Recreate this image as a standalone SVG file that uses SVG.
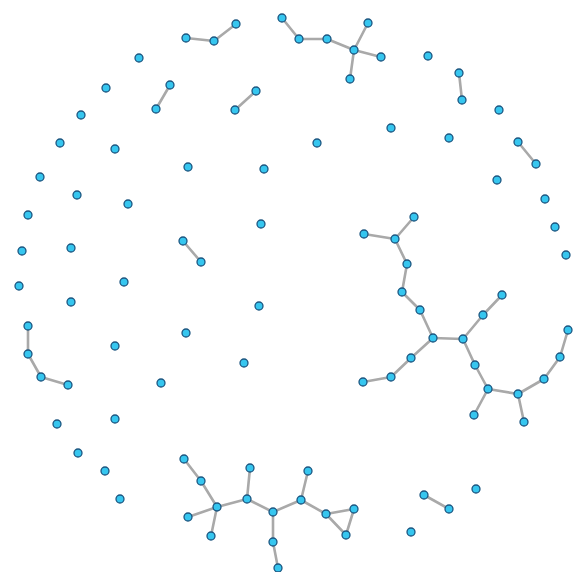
<svg xmlns="http://www.w3.org/2000/svg" width="574" height="572" viewBox="0 0 574 572">
<style>
.e{stroke:#a9a9a9;stroke-width:2.6;stroke-linecap:round;fill:none}
.n circle{fill:#36c6ef;stroke:#1d5680;stroke-width:1.3}
</style>
<rect width="574" height="572" fill="#ffffff"/>
<g id="edges">
<line class="e" x1="186" y1="38" x2="214" y2="41"/>
<line class="e" x1="214" y1="41" x2="236" y2="24"/>
<line class="e" x1="282" y1="18" x2="299" y2="39"/>
<line class="e" x1="299" y1="39" x2="327" y2="39"/>
<line class="e" x1="327" y1="39" x2="354" y2="50"/>
<line class="e" x1="354" y1="50" x2="368" y2="23"/>
<line class="e" x1="354" y1="50" x2="381" y2="57"/>
<line class="e" x1="354" y1="50" x2="350" y2="79"/>
<line class="e" x1="170" y1="85" x2="156" y2="109"/>
<line class="e" x1="256" y1="91" x2="235" y2="110"/>
<line class="e" x1="459" y1="73" x2="462" y2="100"/>
<line class="e" x1="518" y1="142" x2="536" y2="164"/>
<line class="e" x1="183" y1="241" x2="201" y2="262"/>
<line class="e" x1="364" y1="234" x2="395" y2="239"/>
<line class="e" x1="395" y1="239" x2="414" y2="217"/>
<line class="e" x1="395" y1="239" x2="407" y2="264"/>
<line class="e" x1="407" y1="264" x2="402" y2="292"/>
<line class="e" x1="402" y1="292" x2="420" y2="310"/>
<line class="e" x1="420" y1="310" x2="433" y2="338"/>
<line class="e" x1="433" y1="338" x2="463" y2="339"/>
<line class="e" x1="463" y1="339" x2="483" y2="315"/>
<line class="e" x1="483" y1="315" x2="502" y2="295"/>
<line class="e" x1="433" y1="338" x2="411" y2="358"/>
<line class="e" x1="411" y1="358" x2="391" y2="377"/>
<line class="e" x1="391" y1="377" x2="363" y2="382"/>
<line class="e" x1="463" y1="339" x2="475" y2="365"/>
<line class="e" x1="475" y1="365" x2="488" y2="389"/>
<line class="e" x1="488" y1="389" x2="518" y2="394"/>
<line class="e" x1="518" y1="394" x2="544" y2="379"/>
<line class="e" x1="544" y1="379" x2="560" y2="357"/>
<line class="e" x1="560" y1="357" x2="568" y2="330"/>
<line class="e" x1="488" y1="389" x2="474" y2="415"/>
<line class="e" x1="518" y1="394" x2="524" y2="422"/>
<line class="e" x1="28" y1="326" x2="28" y2="354"/>
<line class="e" x1="28" y1="354" x2="41" y2="377"/>
<line class="e" x1="41" y1="377" x2="68" y2="385"/>
<line class="e" x1="184" y1="459" x2="201" y2="481"/>
<line class="e" x1="201" y1="481" x2="217" y2="507"/>
<line class="e" x1="217" y1="507" x2="188" y2="517"/>
<line class="e" x1="217" y1="507" x2="211" y2="536"/>
<line class="e" x1="217" y1="507" x2="247" y2="499"/>
<line class="e" x1="247" y1="499" x2="250" y2="468"/>
<line class="e" x1="247" y1="499" x2="273" y2="512"/>
<line class="e" x1="273" y1="512" x2="273" y2="542"/>
<line class="e" x1="273" y1="542" x2="278" y2="568"/>
<line class="e" x1="273" y1="512" x2="301" y2="500"/>
<line class="e" x1="301" y1="500" x2="308" y2="471"/>
<line class="e" x1="301" y1="500" x2="326" y2="514"/>
<line class="e" x1="326" y1="514" x2="354" y2="509"/>
<line class="e" x1="354" y1="509" x2="346" y2="535"/>
<line class="e" x1="346" y1="535" x2="326" y2="514"/>
<line class="e" x1="424" y1="495" x2="449" y2="509"/>
</g>
<g class="n" id="n1"><circle cx="186" cy="38" r="4"/></g>
<g class="n" id="n2"><circle cx="214" cy="41" r="4"/></g>
<g class="n" id="n3"><circle cx="236" cy="24" r="4"/></g>
<g class="n" id="n4"><circle cx="282" cy="18" r="4"/></g>
<g class="n" id="n5"><circle cx="299" cy="39" r="4"/></g>
<g class="n" id="n6"><circle cx="327" cy="39" r="4"/></g>
<g class="n" id="n7"><circle cx="354" cy="50" r="4"/></g>
<g class="n" id="n8"><circle cx="368" cy="23" r="4"/></g>
<g class="n" id="n9"><circle cx="381" cy="57" r="4"/></g>
<g class="n" id="n10"><circle cx="350" cy="79" r="4"/></g>
<g class="n" id="n11"><circle cx="139" cy="58" r="4"/></g>
<g class="n" id="n12"><circle cx="106" cy="88" r="4"/></g>
<g class="n" id="n13"><circle cx="170" cy="85" r="4"/></g>
<g class="n" id="n14"><circle cx="156" cy="109" r="4"/></g>
<g class="n" id="n15"><circle cx="81" cy="115" r="4"/></g>
<g class="n" id="n16"><circle cx="256" cy="91" r="4"/></g>
<g class="n" id="n17"><circle cx="235" cy="110" r="4"/></g>
<g class="n" id="n18"><circle cx="428" cy="56" r="4"/></g>
<g class="n" id="n19"><circle cx="459" cy="73" r="4"/></g>
<g class="n" id="n20"><circle cx="462" cy="100" r="4"/></g>
<g class="n" id="n21"><circle cx="499" cy="110" r="4"/></g>
<g class="n" id="n22"><circle cx="391" cy="128" r="4"/></g>
<g class="n" id="n23"><circle cx="449" cy="138" r="4"/></g>
<g class="n" id="n24"><circle cx="518" cy="142" r="4"/></g>
<g class="n" id="n25"><circle cx="536" cy="164" r="4"/></g>
<g class="n" id="n26"><circle cx="60" cy="143" r="4"/></g>
<g class="n" id="n27"><circle cx="115" cy="149" r="4"/></g>
<g class="n" id="n28"><circle cx="317" cy="143" r="4"/></g>
<g class="n" id="n29"><circle cx="188" cy="167" r="4"/></g>
<g class="n" id="n30"><circle cx="264" cy="169" r="4"/></g>
<g class="n" id="n31"><circle cx="497" cy="180" r="4"/></g>
<g class="n" id="n32"><circle cx="40" cy="177" r="4"/></g>
<g class="n" id="n33"><circle cx="77" cy="195" r="4"/></g>
<g class="n" id="n34"><circle cx="128" cy="204" r="4"/></g>
<g class="n" id="n35"><circle cx="545" cy="199" r="4"/></g>
<g class="n" id="n36"><circle cx="28" cy="215" r="4"/></g>
<g class="n" id="n37"><circle cx="261" cy="224" r="4"/></g>
<g class="n" id="n38"><circle cx="555" cy="227" r="4"/></g>
<g class="n" id="n39"><circle cx="414" cy="217" r="4"/></g>
<g class="n" id="n40"><circle cx="364" cy="234" r="4"/></g>
<g class="n" id="n41"><circle cx="395" cy="239" r="4"/></g>
<g class="n" id="n42"><circle cx="183" cy="241" r="4"/></g>
<g class="n" id="n43"><circle cx="201" cy="262" r="4"/></g>
<g class="n" id="n44"><circle cx="22" cy="251" r="4"/></g>
<g class="n" id="n45"><circle cx="71" cy="248" r="4"/></g>
<g class="n" id="n46"><circle cx="566" cy="255" r="4"/></g>
<g class="n" id="n47"><circle cx="407" cy="264" r="4"/></g>
<g class="n" id="n48"><circle cx="19" cy="286" r="4"/></g>
<g class="n" id="n49"><circle cx="124" cy="282" r="4"/></g>
<g class="n" id="n50"><circle cx="402" cy="292" r="4"/></g>
<g class="n" id="n51"><circle cx="502" cy="295" r="4"/></g>
<g class="n" id="n52"><circle cx="71" cy="302" r="4"/></g>
<g class="n" id="n53"><circle cx="259" cy="306" r="4"/></g>
<g class="n" id="n54"><circle cx="420" cy="310" r="4"/></g>
<g class="n" id="n55"><circle cx="483" cy="315" r="4"/></g>
<g class="n" id="n56"><circle cx="28" cy="326" r="4"/></g>
<g class="n" id="n57"><circle cx="568" cy="330" r="4"/></g>
<g class="n" id="n58"><circle cx="186" cy="333" r="4"/></g>
<g class="n" id="n59"><circle cx="433" cy="338" r="4"/></g>
<g class="n" id="n60"><circle cx="463" cy="339" r="4"/></g>
<g class="n" id="n61"><circle cx="115" cy="346" r="4"/></g>
<g class="n" id="n62"><circle cx="28" cy="354" r="4"/></g>
<g class="n" id="n63"><circle cx="560" cy="357" r="4"/></g>
<g class="n" id="n64"><circle cx="411" cy="358" r="4"/></g>
<g class="n" id="n65"><circle cx="244" cy="363" r="4"/></g>
<g class="n" id="n66"><circle cx="475" cy="365" r="4"/></g>
<g class="n" id="n67"><circle cx="41" cy="377" r="4"/></g>
<g class="n" id="n68"><circle cx="68" cy="385" r="4"/></g>
<g class="n" id="n69"><circle cx="161" cy="383" r="4"/></g>
<g class="n" id="n70"><circle cx="363" cy="382" r="4"/></g>
<g class="n" id="n71"><circle cx="391" cy="377" r="4"/></g>
<g class="n" id="n72"><circle cx="544" cy="379" r="4"/></g>
<g class="n" id="n73"><circle cx="488" cy="389" r="4"/></g>
<g class="n" id="n74"><circle cx="518" cy="394" r="4"/></g>
<g class="n" id="n75"><circle cx="474" cy="415" r="4"/></g>
<g class="n" id="n76"><circle cx="524" cy="422" r="4"/></g>
<g class="n" id="n77"><circle cx="57" cy="424" r="4"/></g>
<g class="n" id="n78"><circle cx="115" cy="419" r="4"/></g>
<g class="n" id="n79"><circle cx="78" cy="453" r="4"/></g>
<g class="n" id="n80"><circle cx="184" cy="459" r="4"/></g>
<g class="n" id="n81"><circle cx="105" cy="471" r="4"/></g>
<g class="n" id="n82"><circle cx="250" cy="468" r="4"/></g>
<g class="n" id="n83"><circle cx="308" cy="471" r="4"/></g>
<g class="n" id="n84"><circle cx="201" cy="481" r="4"/></g>
<g class="n" id="n85"><circle cx="120" cy="499" r="4"/></g>
<g class="n" id="n86"><circle cx="247" cy="499" r="4"/></g>
<g class="n" id="n87"><circle cx="301" cy="500" r="4"/></g>
<g class="n" id="n88"><circle cx="424" cy="495" r="4"/></g>
<g class="n" id="n89"><circle cx="476" cy="489" r="4"/></g>
<g class="n" id="n90"><circle cx="217" cy="507" r="4"/></g>
<g class="n" id="n91"><circle cx="273" cy="512" r="4"/></g>
<g class="n" id="n92"><circle cx="326" cy="514" r="4"/></g>
<g class="n" id="n93"><circle cx="354" cy="509" r="4"/></g>
<g class="n" id="n94"><circle cx="449" cy="509" r="4"/></g>
<g class="n" id="n95"><circle cx="188" cy="517" r="4"/></g>
<g class="n" id="n96"><circle cx="211" cy="536" r="4"/></g>
<g class="n" id="n97"><circle cx="346" cy="535" r="4"/></g>
<g class="n" id="n98"><circle cx="273" cy="542" r="4"/></g>
<g class="n" id="n99"><circle cx="411" cy="532" r="4"/></g>
<g class="n" id="n100"><circle cx="278" cy="568" r="4"/></g>
</svg>
